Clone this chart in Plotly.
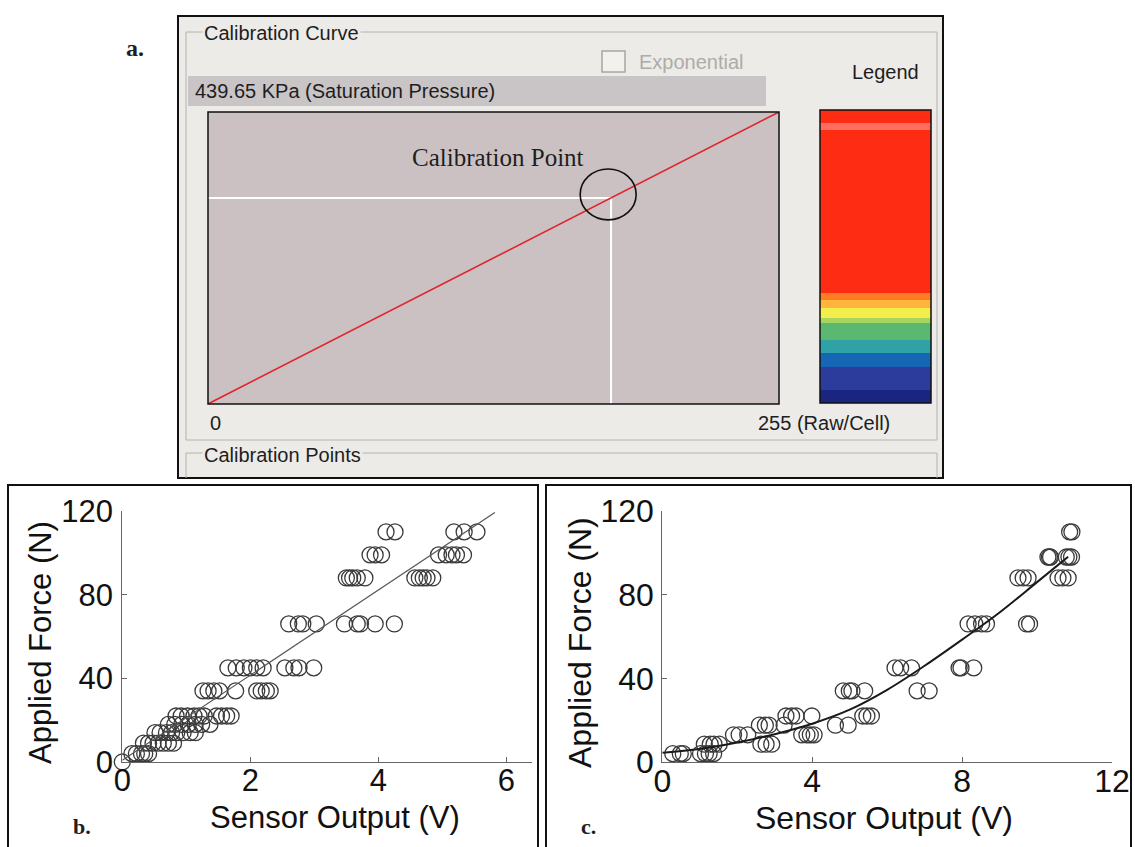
import plotly.graph_objects as go

W, H = 1135, 847

# ---------------- panel a: calibration curve ----------------
sat_pressure = 439.65          # kPa at raw value 255
curve_raw = [0, 255]
curve_kpa = [0, 439.65]
cal_raw = 180                  # calibration point (raw/cell)
cal_kpa = 310.3                # calibration point (kPa)

# pressure legend bands (kPa edges, bottom -> top) and their colours
legend_edges = [0, 19, 54, 75, 94, 120, 128, 142, 155, 165, 410, 420, 439.65]
legend_colors = ["#1b2580", "#2c3c9c", "#1566b4", "#30a2a6", "#5bb870", "#a6d65e",
                 "#f4ee4c", "#ffb43c", "#ff7c22", "#ff2c14", "#ff6e5e", "#ff2c14"]

# ---------------- panel b: linear sensor ----------------
b_levels = [0, 4, 9, 14, 18, 22, 34, 45, 66, 88, 99, 110]
b_volts = [
    [0.0],
    [0.15, 0.22, 0.30, 0.35, 0.41],
    [0.33, 0.41, 0.48, 0.56, 0.64, 0.72, 0.80],
    [0.51, 0.59, 0.69, 0.77, 0.85, 0.95, 1.06, 1.14],
    [0.72, 0.82, 0.93, 1.03, 1.14, 1.24, 1.37],
    [0.84, 0.92, 1.02, 1.12, 1.20, 1.28, 1.47, 1.55, 1.63, 1.70],
    [1.26, 1.34, 1.43, 1.52, 1.77, 2.10, 2.17, 2.25, 2.31],
    [1.65, 1.78, 1.90, 2.00, 2.10, 2.20, 2.54, 2.68, 2.76, 2.99],
    [2.60, 2.75, 2.82, 3.03, 3.47, 3.67, 3.72, 3.95, 4.25],
    [3.50, 3.55, 3.60, 3.67, 3.79, 4.57, 4.64, 4.70, 4.76, 4.85],
    [3.87, 3.95, 4.05, 4.94, 5.06, 5.15, 5.22, 5.33],
    [4.12, 4.26, 5.18, 5.34, 5.54],
]
fit_b_volts = [0, 5.82]
fit_b_force = [0.8, 119.3]

# ---------------- panel c: nonlinear sensor ----------------
c_levels = [4, 8.5, 13, 17.6, 22, 34, 45, 66, 88, 98, 110]
c_volts = [
    [0.28, 0.48, 0.56, 1.02, 1.15, 1.25, 1.37],
    [1.12, 1.28, 1.38, 1.52, 2.63, 2.77, 2.92],
    [1.90, 2.05, 2.28, 3.72, 3.86, 3.95, 4.05],
    [2.59, 2.75, 2.85, 3.25, 4.62, 4.96],
    [3.30, 3.45, 3.57, 3.99, 5.35, 5.46, 5.58],
    [4.83, 4.99, 5.06, 5.40, 6.80, 7.12],
    [6.21, 6.36, 6.65, 7.92, 7.97, 8.31],
    [8.16, 8.34, 8.52, 8.65, 9.72, 9.80],
    [9.49, 9.63, 9.76, 10.56, 10.69, 10.83],
    [10.29, 10.33, 10.36, 10.78, 10.85, 10.92],
    [10.87, 10.93],
]
fit_c_volts = [0, 1, 2, 3, 4, 5, 6, 7, 8, 9, 10, 10.83]
fit_c_force = [4.4, 6.2, 9.3, 13.3, 18.3, 25.0, 34.5, 46.0, 58.5, 71.5, 86.0, 98.1]


def flatten(levels, rows):
    xs, ys = [], []
    for lvl, row in zip(levels, rows):
        for v in row:
            xs.append(v)
            ys.append(lvl)
    return xs, ys


def px(x):
    return x / W


def py(y):
    return 1 - y / H


SANS = "Liberation Sans, Arial, sans-serif"
SERIF = "Liberation Serif, Times New Roman, serif"
PANEL_BG = "#ecebe8"

fig = go.Figure()

# panel a traces
fig.add_trace(go.Scatter(x=[0, cal_raw, cal_raw], y=[cal_kpa, cal_kpa, 0], mode="lines",
                         line=dict(color="white", width=2), xaxis="x", yaxis="y",
                         hoverinfo="skip"))
fig.add_trace(go.Scatter(x=curve_raw, y=curve_kpa, mode="lines",
                         line=dict(color="#e0242a", width=1.6), xaxis="x", yaxis="y"))

# pressure legend strip
n_bands = len(legend_colors)
fig.add_trace(go.Heatmap(
    x=[0, 1], y=legend_edges, z=[[i] for i in range(n_bands)],
    colorscale=[[i / (n_bands - 1), c] for i, c in enumerate(legend_colors)],
    zmin=0, zmax=n_bands - 1, showscale=False, xaxis="x4", yaxis="y4", hoverinfo="skip"))

# panel b
bx, by = flatten(b_levels, b_volts)
marker_style = dict(symbol="circle-open", size=16, color="#3a3a3a", line=dict(width=1.3))
fig.add_trace(go.Scatter(x=bx, y=by, mode="markers", marker=marker_style,
                         xaxis="x2", yaxis="y2", cliponaxis=False))
fig.add_trace(go.Scatter(x=fit_b_volts, y=fit_b_force, mode="lines",
                         line=dict(color="#555555", width=1.2), xaxis="x2", yaxis="y2"))

# panel c
cx, cy = flatten(c_levels, c_volts)
fig.add_trace(go.Scatter(x=cx, y=cy, mode="markers", marker=marker_style,
                         xaxis="x3", yaxis="y3", cliponaxis=False))
fig.add_trace(go.Scatter(x=fit_c_volts, y=fit_c_force, mode="lines",
                         line=dict(color="#1a1a1a", width=2, shape="spline", smoothing=1.0),
                         xaxis="x3", yaxis="y3"))

hidden = dict(visible=False, showgrid=False, zeroline=False, fixedrange=True)


def data_axis(domain, rng, tickvals, anchor, size, standoff):
    return dict(domain=domain, range=rng, tickvals=tickvals, anchor=anchor,
                ticks="inside", ticklen=5, tickcolor="#666666", tickwidth=1,
                showline=True, linecolor="#666666", linewidth=1,
                showgrid=False, zeroline=False, automargin=False,
                tickfont=dict(family=SANS, size=size, color="#111111"),
                ticklabelstandoff=standoff)


fig.update_layout(
    width=W, height=H, autosize=False,
    margin=dict(l=0, r=0, t=0, b=0, pad=0, autoexpand=False),
    paper_bgcolor="white", plot_bgcolor="rgba(0,0,0,0)", showlegend=False,
    xaxis=dict(domain=[px(208), px(779)], range=[0, 255], anchor="y", **hidden),
    yaxis=dict(domain=[py(404), py(112)], range=[0, sat_pressure], anchor="x", **hidden),
    xaxis4=dict(domain=[px(820), px(931)], range=[0, 1], anchor="y4", **hidden),
    yaxis4=dict(domain=[py(403), py(110)], range=[0, sat_pressure], anchor="x4", **hidden),
    xaxis2=data_axis([px(122.3), px(532)], [0, 6.4], [0, 2, 4, 6], "y2", 31, -9),
    yaxis2=data_axis([py(762), py(511)], [0, 120], [0, 40, 80, 120], "x2", 31, 2),
    xaxis3=data_axis([px(662.3), px(1112)], [0, 12], [0, 4, 8, 12], "y3", 32, -9),
    yaxis3=data_axis([py(762), py(511)], [0, 120], [0, 40, 80, 120], "x3", 32, 1),
)

shapes = [
    # software window frame
    dict(type="rect", xref="paper", yref="paper", x0=px(178), x1=px(943), y0=py(478), y1=py(16),
         fillcolor=PANEL_BG, line=dict(color="#111111", width=2), layer="below"),
    # "Calibration Curve" group box
    dict(type="rect", xref="paper", yref="paper", x0=px(186), x1=px(937), y0=py(440), y1=py(32),
         fillcolor="rgba(0,0,0,0)", line=dict(color="#b4b2ae", width=1), layer="below"),
    # "Calibration Points" group box edges
    dict(type="path", xref="paper", yref="paper",
         path=f"M {px(186)} {py(478)} L {px(186)} {py(453)} L {px(937)} {py(453)} L {px(937)} {py(478)}",
         line=dict(color="#b4b2ae", width=1), layer="below"),
    # saturation pressure bar
    dict(type="rect", xref="paper", yref="paper", x0=px(188), x1=px(766), y0=py(106), y1=py(76),
         fillcolor="#c9c4c5", line=dict(width=0), layer="below"),
    # curve plot area
    dict(type="rect", xref="paper", yref="paper", x0=px(208), x1=px(779), y0=py(404), y1=py(112),
         fillcolor="#cbc1c3", line=dict(width=0), layer="below"),
    dict(type="rect", xref="paper", yref="paper", x0=px(208), x1=px(779), y0=py(404), y1=py(112),
         fillcolor="rgba(0,0,0,0)", line=dict(color="#111111", width=1.5), layer="above"),
    # legend strip border
    dict(type="rect", xref="paper", yref="paper", x0=px(820), x1=px(931), y0=py(403), y1=py(110),
         fillcolor="rgba(0,0,0,0)", line=dict(color="#111111", width=1.5), layer="above"),
    # disabled checkbox
    dict(type="rect", xref="paper", yref="paper", x0=px(602), x1=px(625), y0=py(72), y1=py(51),
         fillcolor="#f2f1ee", line=dict(color="#a8a6a2", width=1.5), layer="above"),
    # circle around the calibration point
    dict(type="circle", xref="x", yref="y", x0=cal_raw - 13.8, x1=cal_raw + 11.2,
         y0=cal_kpa - 33, y1=cal_kpa + 43.5, line=dict(color="#111111", width=1.6), layer="above"),
    # frames of panels b and c
    dict(type="rect", xref="paper", yref="paper", x0=px(8), x1=px(538), y0=py(852), y1=py(485),
         fillcolor="rgba(0,0,0,0)", line=dict(color="#111111", width=2)),
    dict(type="rect", xref="paper", yref="paper", x0=px(546), x1=px(1131), y0=py(852), y1=py(485),
         fillcolor="rgba(0,0,0,0)", line=dict(color="#111111", width=2)),
]
fig.update_layout(shapes=shapes)


def note(text, x, y, size=20, family=SANS, color="#1e1e1e", xanchor="center", bold=False,
         bgcolor=None, textangle=0):
    if bold:
        text = f"<b>{text}</b>"
    kw = dict(text=text, xref="paper", yref="paper", x=px(x), y=py(y), showarrow=False,
              xanchor=xanchor, yanchor="middle", textangle=textangle,
              font=dict(family=family, size=size, color=color))
    if bgcolor:
        kw.update(bgcolor=bgcolor, borderpad=1)
    fig.add_annotation(**kw)


# panel a texts
note("a.", 135, 48, size=24, family=SERIF, bold=True)
note("Calibration Curve", 202, 33, xanchor="left", bgcolor=PANEL_BG)
note("Exponential", 637, 62, color="#aeaca8", xanchor="left")
note("Legend", 885, 72)
note("439.65 KPa (Saturation Pressure)", 193, 91, xanchor="left")
note("Calibration Point", 498, 158, size=25, family=SERIF)
note("0", 208, 423, xanchor="left")
note("255 (Raw/Cell)", 892, 423, xanchor="right")
note("Calibration Points", 202, 455, xanchor="left", bgcolor=PANEL_BG)

# panel b / c titles and letters
note("Applied Force (N)", 40, 643, size=31, textangle=-90, color="#111111")
note("Sensor Output (V)", 335, 817, size=31, color="#111111")
note("b.", 82, 826, size=22, family=SERIF, bold=True)
note("Applied Force (N)", 580, 643, size=32, textangle=-90, color="#111111")
note("Sensor Output (V)", 884, 818, size=32, color="#111111")
note("c.", 588, 826, size=22, family=SERIF, bold=True)

fig.write_html("out.html")
